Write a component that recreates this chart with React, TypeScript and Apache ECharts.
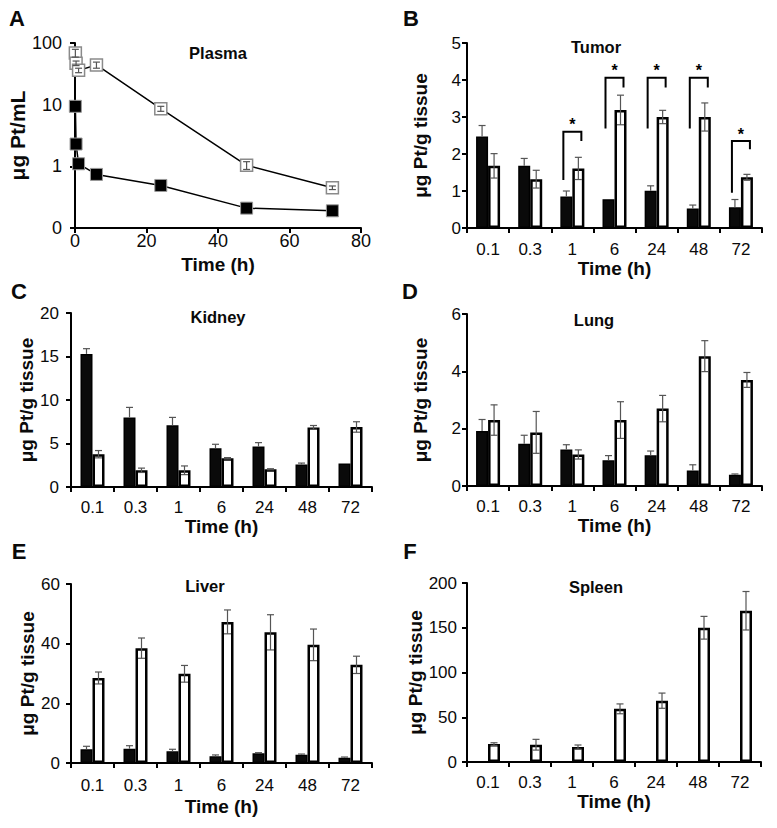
import React, { useEffect, useRef } from 'react';
import * as echarts from 'echarts';

const FONT = '"Liberation Sans", Arial, Helvetica, sans-serif';

// ---------- data ----------
const timeLabels = ['0.1', '0.3', '1', '6', '24', '48', '72'];

// A: Plasma (log scale)
const plasmaTime = [0.1, 0.3, 1, 6, 24, 48, 72];
const plasmaFree = [9.4, 2.3, 1.1, 0.74, 0.49, 0.21, 0.19];
const plasmaNano = [69, 47, 36, 44, 8.6, 1.04, 0.45];
const plasmaNanoErr = [10, 4, 3, 5, 0.8, 0.15, 0.03];

// B: Tumor
const tumorFree = [2.47, 1.68, 0.85, 0.78, 1.01, 0.53, 0.56];
const tumorFreeErr = [0.3, 0.2, 0.15, 0, 0.13, 0.09, 0.21];
const tumorNano = [1.68, 1.32, 1.61, 3.19, 3.0, 3.0, 1.37];
const tumorNanoErr = [0.33, 0.24, 0.3, 0.4, 0.18, 0.38, 0.08];
// significance brackets: [category index, left end, top, right end]
const tumorSig = [
  [2, 1.3, 2.6, 2.35],
  [3, 2.69, 4.06, 3.8],
  [4, 2.69, 4.06, 3.8],
  [5, 2.69, 4.06, 3.8],
  [6, 0.95, 2.35, 2.13],
];

// C: Kidney
const kidneyFree = [15.3, 8.0, 7.1, 4.46, 4.65, 2.6, 2.7];
const kidneyFreeErr = [0.6, 1.15, 0.9, 0.45, 0.45, 0.15, 0];
const kidneyNano = [3.77, 1.92, 1.92, 3.3, 2.04, 6.85, 6.9];
const kidneyNanoErr = [0.42, 0.25, 0.5, 0.08, 0.06, 0.22, 0.6];

// D: Lung
const lungFree = [1.92, 1.47, 1.27, 0.9, 1.07, 0.54, 0.39];
const lungFreeErr = [0.4, 0.3, 0.17, 0.16, 0.15, 0.2, 0.03];
const lungNano = [2.3, 1.87, 1.1, 2.3, 2.7, 4.53, 3.7];
const lungNanoErr = [0.53, 0.73, 0.16, 0.64, 0.46, 0.54, 0.26];

// E: Liver
const liverFree = [4.6, 4.8, 3.9, 2.25, 3.26, 2.8, 1.8];
const liverFreeErr = [1.0, 1.0, 0.7, 0.45, 0.2, 0.2, 0.2];
const liverNano = [28.5, 38.5, 29.9, 47.3, 43.8, 39.6, 32.9];
const liverNanoErr = [2, 3.4, 2.8, 4, 5.9, 5.3, 2.9];

// F: Spleen
const spleenFree = [0, 0, 0.8, 0, 0, 0, 0];
const spleenFreeErr = [0, 0, 0, 0, 0, 0, 0];
const spleenNano = [20, 19.3, 16.7, 59.4, 68.5, 150, 169];
const spleenNanoErr = [1.5, 6, 2.3, 5.5, 8.5, 12.7, 21.5];

// ---------- helpers ----------
const AX = { color: '#000', width: 2 };
const BAR_W = 12;
const INK = '#0a0a0a';

function errSeries(g: number, xs: any[], vals: number[], errs: number[], offset: number, upperOnly: boolean) {
  return {
    type: 'custom',
    xAxisIndex: g,
    yAxisIndex: g,
    z: 5,
    silent: true,
    data: vals.map((v, i) => [xs[i], v, errs[i]]),
    renderItem: (_p: any, api: any) => {
      const x0 = api.value(0);
      const v = api.value(1);
      const e = api.value(2);
      if (!e) return { type: 'group', children: [] };
      const hi = api.coord([x0, v + e]);
      const lo = api.coord([x0, upperOnly ? v : v - e]);
      const x = hi[0] + offset;
      const w = 3.5;
      const style = { stroke: '#555', lineWidth: 1.2 };
      const children: any[] = [
        { type: 'line', shape: { x1: x, y1: hi[1], x2: x, y2: lo[1] }, style },
        { type: 'line', shape: { x1: x - w, y1: hi[1], x2: x + w, y2: hi[1] }, style },
      ];
      if (!upperOnly) children.push({ type: 'line', shape: { x1: x - w, y1: lo[1], x2: x + w, y2: lo[1] }, style });
      return { type: 'group', children };
    },
  };
}

function catX(g: number, labelMargin: number, nameGap: number) {
  return {
    gridIndex: g,
    type: 'category',
    data: timeLabels,
    axisLine: { show: true, lineStyle: AX },
    axisTick: { show: true, length: 5, lineStyle: AX },
    axisLabel: { color: INK, fontSize: 17, fontFamily: FONT, margin: labelMargin },
    splitLine: { show: false },
    name: 'Time (h)',
    nameLocation: 'middle',
    nameGap,
    nameTextStyle: { color: INK, fontSize: 19, fontWeight: 'bold', fontFamily: FONT },
  };
}

function valY(g: number, max: number, interval: number, labelMargin: number, nameGap: number) {
  return {
    gridIndex: g,
    type: 'value',
    min: 0,
    max,
    interval,
    axisLine: { show: true, lineStyle: AX },
    axisTick: { show: true, length: 5, lineStyle: AX },
    axisLabel: { color: INK, fontSize: 17, fontFamily: FONT, margin: labelMargin },
    splitLine: { show: false },
    name: 'μg Pt/g tissue',
    nameLocation: 'middle',
    nameGap,
    nameTextStyle: { color: INK, fontSize: 19, fontWeight: 'bold', fontFamily: FONT },
  };
}

function barSeries(g: number, free: number[], freeErr: number[], nano: number[], nanoErr: number[]) {
  const idx = timeLabels.map((_, i) => i);
  return [
    {
      type: 'bar', xAxisIndex: g, yAxisIndex: g, data: free, barWidth: BAR_W, barGap: '0%',
      itemStyle: { color: '#0a0a0a', borderColor: '#000', borderWidth: 1.5 },
    },
    {
      type: 'bar', xAxisIndex: g, yAxisIndex: g, data: nano, barWidth: BAR_W, barGap: '0%',
      itemStyle: { color: '#fff', borderColor: '#000', borderWidth: 2.5 },
    },
    errSeries(g, idx, free, freeErr, -BAR_W / 2, true),
    errSeries(g, idx, nano, nanoErr, BAR_W / 2, false),
  ];
}

function txt(text: string, x: number, y: number, size: number) {
  return {
    type: 'text',
    x,
    y,
    style: {
      text,
      fill: INK,
      font: `bold ${size}px ${FONT}`,
      align: 'center',
      verticalAlign: 'middle',
      textAlign: 'center',
      textVerticalAlign: 'middle',
    },
  };
}

export default function App() {
  const ref = useRef<HTMLDivElement>(null);

  useEffect(() => {
    if (!ref.current) return;
    const chart = echarts.init(ref.current, undefined, { renderer: 'svg' });

    const grids = [
      { left: 75, top: 43, width: 286, height: 185 },
      { left: 467, top: 43, width: 295, height: 185 },
      { left: 71, top: 313, width: 301, height: 174 },
      { left: 467, top: 314, width: 295, height: 172 },
      { left: 71, top: 584, width: 301, height: 179 },
      { left: 467, top: 583, width: 294, height: 179 },
    ].map((g) => ({ ...g, containLabel: false, outerBoundsMode: 'none' }));

    const option: any = {
      animation: false,
      backgroundColor: '#fff',
      textStyle: { fontFamily: FONT },
      grid: grids,
      xAxis: [
        {
          gridIndex: 0,
          type: 'value',
          min: 0,
          max: 80,
          interval: 20,
          axisLine: { show: true, onZero: false, lineStyle: AX },
          axisTick: { show: true, length: 5, lineStyle: AX },
          axisLabel: { color: INK, fontSize: 18, fontFamily: FONT, margin: 4 },
          splitLine: { show: false },
          name: 'Time (h)',
          nameLocation: 'middle',
          nameGap: 27,
          nameTextStyle: { color: INK, fontSize: 19, fontWeight: 'bold', fontFamily: FONT },
        },
        catX(1, 13, 28),
        catX(2, 12, 29),
        catX(3, 12, 29),
        catX(4, 14, 34),
        catX(5, 12, 30),
      ],
      yAxis: [
        {
          gridIndex: 0,
          type: 'log',
          logBase: 10,
          min: 0.1,
          max: 100,
          axisLine: { show: true, onZero: false, lineStyle: AX },
          axisTick: { show: true, length: 5, lineStyle: AX },
          minorTick: { show: false },
          axisLabel: {
            color: INK, fontSize: 18, fontFamily: FONT, margin: 13,
            formatter: (v: number) => (v < 1 ? '0' : String(Math.round(v))),
          },
          splitLine: { show: false },
          name: 'μg Pt/mL',
          nameLocation: 'middle',
          nameGap: 38,
          nameTextStyle: { color: INK, fontSize: 21, fontWeight: 'bold', fontFamily: FONT },
        },
        valY(1, 5, 1, 6, 37),
        valY(2, 20, 5, 12, 34),
        valY(3, 6, 2, 6, 37),
        valY(4, 60, 20, 11, 34),
        valY(5, 200, 50, 10, 40),
      ],
      graphic: [
        txt('A', 17, 18, 22),
        txt('B', 411, 18, 22),
        txt('C', 19, 291, 22),
        txt('D', 410, 291, 22),
        txt('E', 19, 551, 22),
        txt('F', 410, 551, 22),
        txt('Plasma', 218, 53, 16.5),
        txt('Tumor', 596, 47, 16.5),
        txt('Kidney', 218, 317, 16.5),
        txt('Lung', 594, 320, 16.5),
        txt('Liver', 205, 586, 16.5),
        txt('Spleen', 596, 587, 16.5),
      ],
      series: [
        {
          type: 'line',
          xAxisIndex: 0,
          yAxisIndex: 0,
          data: plasmaTime.map((t, i) => [t, plasmaNano[i]]),
          symbol: 'rect',
          symbolSize: 12,
          z: 3,
          lineStyle: { color: '#000', width: 1.5 },
          itemStyle: { color: '#fff', borderColor: '#8a8a8a', borderWidth: 1.5 },
        },
        {
          type: 'line',
          xAxisIndex: 0,
          yAxisIndex: 0,
          data: plasmaTime.map((t, i) => [t, plasmaFree[i]]),
          symbol: 'rect',
          symbolSize: 12,
          z: 4,
          lineStyle: { color: '#000', width: 1.5 },
          itemStyle: { color: '#000', borderColor: '#999', borderWidth: 1 },
        },
        errSeries(0, plasmaTime, plasmaNano, plasmaNanoErr, 0, false),
        ...barSeries(1, tumorFree, tumorFreeErr, tumorNano, tumorNanoErr),
        {
          type: 'custom',
          xAxisIndex: 1,
          yAxisIndex: 1,
          z: 6,
          silent: true,
          data: tumorSig,
          renderItem: (_p: any, api: any) => {
            const i = api.value(0);
            const l = api.coord([i, api.value(1)]);
            const t = api.coord([i, api.value(2)]);
            const r = api.coord([i, api.value(3)]);
            const xl = t[0] - 9;
            const xr = t[0] + 9;
            return {
              type: 'group',
              children: [
                {
                  type: 'polyline',
                  shape: { points: [[xl, l[1]], [xl, t[1]], [xr, t[1]], [xr, r[1]]] },
                  style: { stroke: '#000', lineWidth: 2, fill: 'none' },
                },
                {
                  type: 'text',
                  x: t[0],
                  y: t[1] - 7,
                  style: {
                    text: '*', fill: '#000', font: `bold 16px ${FONT}`,
                    align: 'center', verticalAlign: 'middle',
                  },
                },
              ],
            };
          },
        },
        ...barSeries(2, kidneyFree, kidneyFreeErr, kidneyNano, kidneyNanoErr),
        ...barSeries(3, lungFree, lungFreeErr, lungNano, lungNanoErr),
        ...barSeries(4, liverFree, liverFreeErr, liverNano, liverNanoErr),
        ...barSeries(5, spleenFree, spleenFreeErr, spleenNano, spleenNanoErr),
      ],
    };

    chart.setOption(option);
    return () => chart.dispose();
  }, []);

  return (
    <div
      ref={ref}
      style={{ position: 'absolute', left: 0, top: 0, width: 777, height: 828, background: '#fff' }}
    />
  );
}
